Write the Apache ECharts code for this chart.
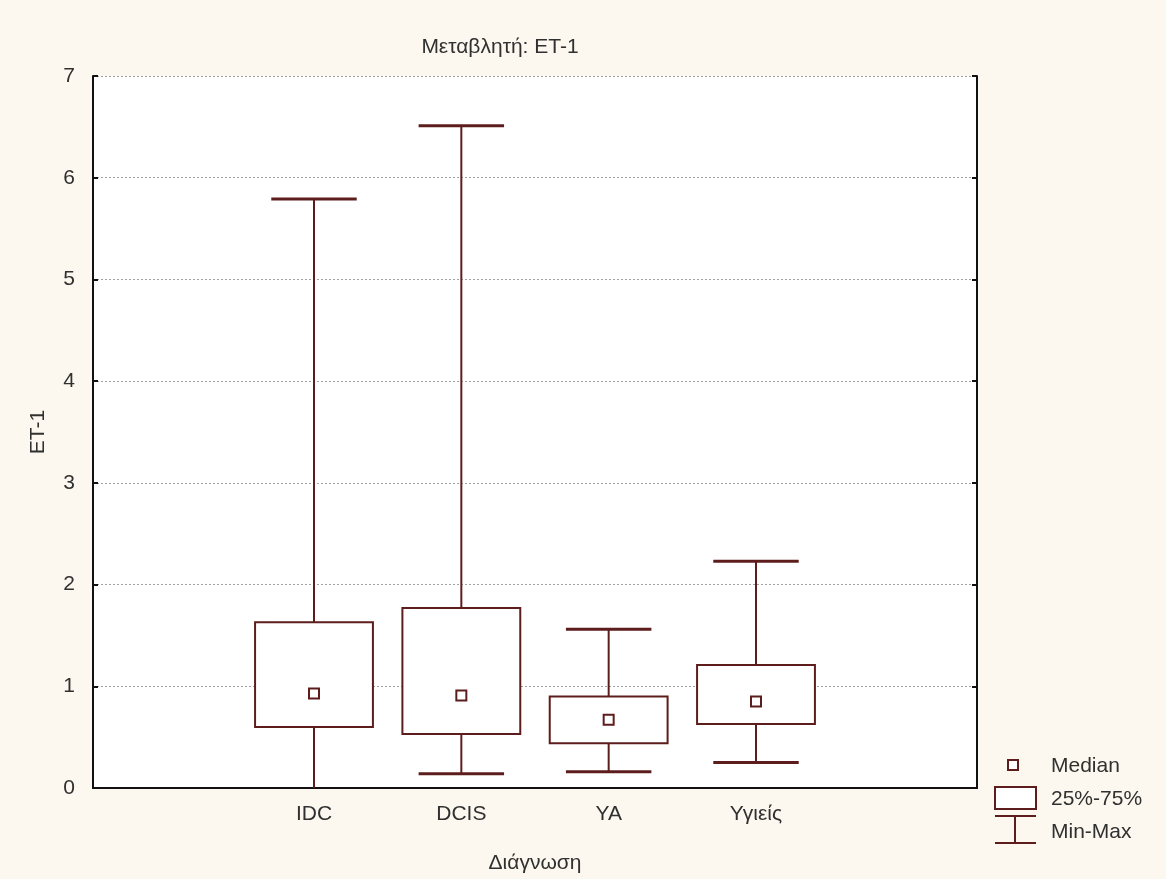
<!DOCTYPE html>
<html>
<head>
<meta charset="utf-8">
<script src="https://cdn.jsdelivr.net/npm/echarts@6/dist/echarts.min.js"></script>
<style>
html,body{margin:0;padding:0;background:#fcf8ef;}
#chart{width:1166px;height:879px;}
</style>
</head>
<body>
<div id="chart"></div>
<script>
const categories = ['', 'IDC', 'DCIS', 'YA', 'Υγιείς', ''];
const groupIndex = [1, 2, 3, 4];
const minValues = [0.0, 0.14, 0.16, 0.25];
const q1Values = [0.60, 0.53, 0.44, 0.63];
const medianValues = [0.93, 0.91, 0.67, 0.85];
const q3Values = [1.63, 1.77, 0.90, 1.21];
const maxValues = [5.79, 6.51, 1.56, 2.23];
const yTicks = [0, 1, 2, 3, 4, 5, 6, 7];

const lineColor = '#5e1d1d';
const textColor = '#303030';
const fontFamily = 'Liberation Sans, Arial, sans-serif';
const fs = 21;

const boxData = groupIndex.map((c, i) => [c, minValues[i], q1Values[i], medianValues[i], q3Values[i], maxValues[i]]);

function renderBox(params, api) {
  const c = api.value(0);
  const pMin = api.coord([c, api.value(1)]);
  const pQ1 = api.coord([c, api.value(2)]);
  const pMed = api.coord([c, api.value(3)]);
  const pQ3 = api.coord([c, api.value(4)]);
  const pMax = api.coord([c, api.value(5)]);
  const band = api.size([1, 0])[0];
  const bw = band * 0.80;
  const cw = band * 0.58;
  const x = pQ1[0];
  const st = {stroke: lineColor, lineWidth: 2, fill: null};
  const children = [
    {type: 'line', shape: {x1: x, y1: pMax[1], x2: x, y2: pQ3[1]}, style: st},
    {type: 'line', shape: {x1: x, y1: pQ1[1], x2: x, y2: pMin[1]}, style: st},
    {type: 'line', shape: {x1: x - cw / 2, y1: pMax[1], x2: x + cw / 2, y2: pMax[1]}, style: {stroke: lineColor, lineWidth: 3}},
    {type: 'rect', shape: {x: x - bw / 2, y: pQ3[1], width: bw, height: pQ1[1] - pQ3[1]}, style: {stroke: lineColor, lineWidth: 2, fill: '#ffffff'}},
    {type: 'rect', shape: {x: x - 5, y: pMed[1] - 5, width: 10, height: 10}, style: {stroke: lineColor, lineWidth: 2, fill: '#ffffff'}}
  ];
  if (api.value(1) > 0.001) {
    children.push({type: 'line', shape: {x1: x - cw / 2, y1: pMin[1], x2: x + cw / 2, y2: pMin[1]}, style: {stroke: lineColor, lineWidth: 3}});
  }
  return {type: 'group', children: children};
}

const chart = echarts.init(document.getElementById('chart'), null, {renderer: 'canvas'});
const axisLineStyle = {color: '#111', width: 2};
const option = {
  backgroundColor: '#fcf8ef',
  animation: false,
  title: {
    text: 'Μεταβλητή: ET-1',
    left: 495, top: 32, textAlign: 'center',
    textStyle: {fontFamily: fontFamily, fontSize: fs, fontWeight: 'normal', color: textColor}
  },
  grid: {left: 93, right: 189, top: 76, bottom: 91, show: true, backgroundColor: '#ffffff', borderWidth: 0},
  xAxis: [{
    type: 'category', data: categories, boundaryGap: true, position: 'bottom',
    name: 'Διάγνωση', nameLocation: 'middle', nameGap: 65,
    nameTextStyle: {fontFamily: fontFamily, fontSize: fs, color: textColor},
    axisLine: {lineStyle: axisLineStyle},
    axisTick: {inside: true, alignWithLabel: true, length: 5, lineStyle: {color: '#111', width: 2}},
    axisLabel: {fontFamily: fontFamily, fontSize: fs, color: textColor, margin: 16, interval: 0},
    splitLine: {show: false}
  }, {
    type: 'category', data: categories, boundaryGap: true, position: 'top',
    axisLine: {lineStyle: axisLineStyle},
    axisTick: {inside: true, alignWithLabel: true, length: 5, lineStyle: {color: '#111', width: 2}},
    axisLabel: {show: false}, splitLine: {show: false}
  }],
  yAxis: [{
    type: 'value', min: 0, max: 7, interval: 1, position: 'left',
    name: 'ET-1', nameLocation: 'middle', nameGap: 44, nameRotate: 90,
    nameTextStyle: {fontFamily: fontFamily, fontSize: fs, color: textColor},
    axisLine: {show: true, lineStyle: axisLineStyle},
    axisTick: {show: true, inside: true, length: 5, lineStyle: {color: '#111', width: 2}},
    axisLabel: {fontFamily: fontFamily, fontSize: fs, color: textColor, margin: 18,
      formatter: v => yTicks.includes(v) ? String(v) : ''},
    splitLine: {show: true, lineStyle: {color: '#a0a0a0', type: [2, 2], width: 1}}
  }, {
    type: 'value', min: 0, max: 7, interval: 1, position: 'right',
    axisLine: {show: true, lineStyle: axisLineStyle},
    axisTick: {show: true, inside: true, length: 5, lineStyle: {color: '#111', width: 2}},
    axisLabel: {show: false}, splitLine: {show: false}
  }],
  series: [{
    type: 'custom', xAxisIndex: 0, yAxisIndex: 0,
    renderItem: renderBox, data: boxData, z: 5
  }],
  graphic: [
    {type: 'rect', shape: {x: 1008, y: 760, width: 10, height: 10}, style: {stroke: lineColor, lineWidth: 2, fill: '#ffffff'}},
    {type: 'text', x: 1051, y: 766, style: {text: 'Median', fontFamily: fontFamily, fontSize: fs, fill: textColor, verticalAlign: 'middle'}},
    {type: 'rect', shape: {x: 995, y: 787, width: 41, height: 22}, style: {stroke: lineColor, lineWidth: 2, fill: '#ffffff'}},
    {type: 'text', x: 1051, y: 799, style: {text: '25%-75%', fontFamily: fontFamily, fontSize: fs, fill: textColor, verticalAlign: 'middle'}},
    {type: 'line', shape: {x1: 995, y1: 816, x2: 1036, y2: 816}, style: {stroke: lineColor, lineWidth: 2}},
    {type: 'line', shape: {x1: 1015, y1: 816, x2: 1015, y2: 843}, style: {stroke: lineColor, lineWidth: 2}},
    {type: 'line', shape: {x1: 995, y1: 843, x2: 1036, y2: 843}, style: {stroke: lineColor, lineWidth: 2}},
    {type: 'text', x: 1051, y: 832, style: {text: 'Min-Max', fontFamily: fontFamily, fontSize: fs, fill: textColor, verticalAlign: 'middle'}}
  ]
};
chart.setOption(option);
</script>
</body>
</html>
